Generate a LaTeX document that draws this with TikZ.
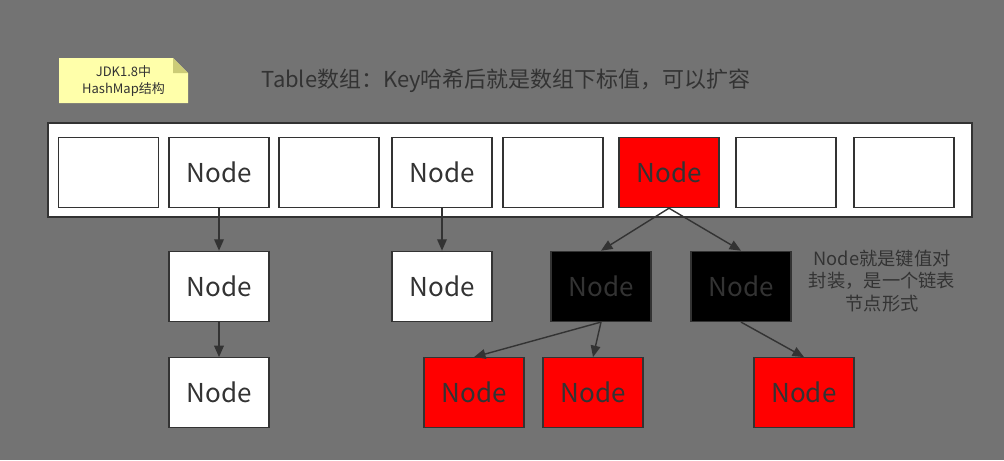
\documentclass[tikz,border=0pt]{standalone}
\usepackage{fontspec}
\setmainfont{Noto Sans CJK SC}
\usetikzlibrary{positioning,arrows.meta}

\definecolor{bggray}{HTML}{737373}
\definecolor{linegray}{HTML}{333333}
\definecolor{notefill}{HTML}{FFFFAA}
\definecolor{notefold}{HTML}{CCCC77}

\begin{document}
\begin{tikzpicture}[
  x=0.02cm, y=-0.02cm,
  cell/.style={draw=linegray, line width=0.8pt, fill=white, minimum width=2cm, minimum height=1.4cm, inner sep=0pt, text=linegray, font=\fontsize{14.8}{17}\selectfont},
  hot/.style={cell, fill=red},
  dark/.style={cell, fill=black},
  arr/.style={-{Triangle[length=6.5pt, width=5.5pt]}, line width=0.8pt, draw=linegray}]
  \fill[bggray] (0,0) rectangle (1004,460);
  \useasboundingbox (0,0) rectangle (1004,460);

  % note with folded corner
  \fill[notefill] (59,58) -- (173,58) -- (188,73) -- (188,103) -- (59,103) -- cycle;
  \fill[notefold] (173,58) -- (173,73) -- (188,73) -- cycle;
  \node[align=center, text=linegray, font=\fontsize{7.4}{10}\selectfont] (jdk) at (123.5,81) {JDK1.8中\\HashMap结构};
  \node[text=linegray, font=\fontsize{12.5}{15}\selectfont] (title) at (506,81) {Table数组：Key哈希后就是数组下标值，可以扩容};

  % table
  \node[draw=linegray, line width=0.9pt, fill=white, minimum width=18.48cm, minimum height=1.88cm] (table) at (510,170) {};
  \node[cell] (t1) at (108.5,172.5) {};
  \node[cell] (t2) at (219,172.5) {Node};
  \node[cell] (t3) at (329,172.5) {};
  \node[cell] (t4) at (442,172.5) {Node};
  \node[cell] (t5) at (553,172.5) {};
  \node[hot] (t6) at (669,172.5) {Node};
  \node[cell] (t7) at (786,172.5) {};
  \node[cell] (t8) at (904,172.5) {};

  % chains
  \node[cell, below=0.85cm of t2] (a1) {Node};
  \node[cell, below=0.70cm of a1] (a2) {Node};
  \node[cell, below=0.85cm of t4] (b1) {Node};
  \node[dark, below=0.85cm of t6, xshift=-1.36cm] (c1) {Node};
  \node[dark, below=0.85cm of t6, xshift=1.44cm] (c2) {Node};
  \node[hot, below=0.70cm of c1, xshift=-2.54cm] (d1) {Node};
  \node[hot, below=0.70cm of c1, xshift=-0.16cm] (d2) {Node};
  \node[hot, below=0.70cm of c2, xshift=1.26cm] (d3) {Node};

  \draw[arr] (t2.south) -- (a1.north);
  \draw[arr] (a1.south) -- (a2.north);
  \draw[arr] (t4.south) -- (b1.north);
  \draw[arr] (t6.south) -- (c1.north);
  \draw[arr] (t6.south) -- (c2.north);
  \draw[arr] (c1.south) -- (d1.north);
  \draw[arr] (c1.south) -- (d2.north);
  \draw[arr] (c2.south) -- (d3.north);

  \node[align=center, text=linegray, font=\fontsize{10.4}{13}\selectfont] (info) at (882,281) {Node就是键值对\\封装，是一个链表\\节点形式};
\end{tikzpicture}
\end{document}
